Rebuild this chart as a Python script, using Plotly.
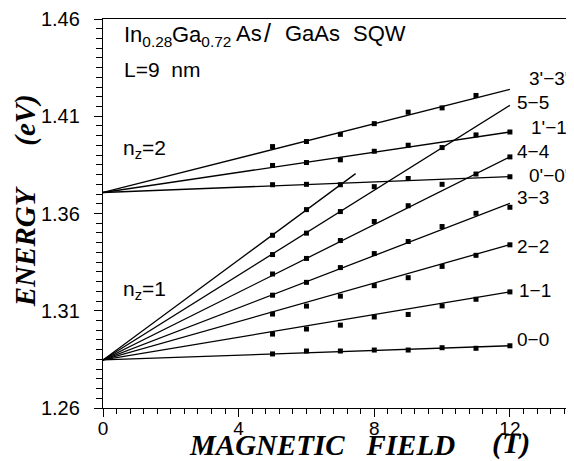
import plotly.graph_objects as go

# ---------------- data ----------------
# transition names (label text on the right)
names = ["0−0", "1−1", "2−2", "3−3", "4−4", "5−5", "6−6", "0'−0'", "1'−1'", "3'−3'"]

# fitted lines: start energy at B=0 and end point
line_start_energy = [1.2847, 1.2847, 1.2847, 1.2847, 1.2847, 1.2847, 1.2847, 1.3708, 1.3708, 1.3708]
line_end_field = [12, 12, 12, 12, 12, 12, 7.45, 12, 12, 12]
line_end_energy = [1.2920, 1.3197, 1.3440, 1.3652, 1.3891, 1.4156, 1.3805, 1.3790, 1.4019, 1.4238]

# measured points (field in T, energy in eV)
b_00 = [5, 6, 7, 8, 9, 10, 11, 12]
e_00 = [1.2878, 1.2893, 1.2893, 1.2898, 1.2898, 1.2910, 1.2907, 1.2920]
b_11 = [5, 6, 7, 8, 9, 10, 11, 12]
e_11 = [1.2980, 1.3006, 1.3026, 1.3068, 1.3081, 1.3125, 1.3159, 1.3197]
b_22 = [5, 6, 7, 8, 9, 10, 11, 12]
e_22 = [1.3083, 1.3124, 1.3175, 1.3229, 1.3270, 1.3328, 1.3385, 1.3439]
b_33 = [5, 6, 7, 8, 9, 10, 11, 12]
e_33 = [1.3180, 1.3246, 1.3322, 1.3394, 1.3456, 1.3533, 1.3601, 1.3632]
b_44 = [5, 6, 7, 8, 9, 11, 12]
e_44 = [1.3289, 1.3369, 1.3461, 1.3559, 1.3640, 1.3803, 1.3891]
b_55 = [5, 6, 7, 8, 10]
e_55 = [1.3389, 1.3499, 1.3610, 1.3738, 1.3939]
b_66 = [5, 6]
e_66 = [1.3488, 1.3620]
b_0p = [5, 6, 7, 9, 10, 12]
e_0p = [1.3748, 1.3750, 1.3748, 1.3780, 1.3750, 1.3789]
b_1p = [5, 6, 7, 8, 9, 11, 12]
e_1p = [1.3847, 1.3862, 1.3876, 1.3920, 1.3951, 1.4004, 1.4019]
b_3p = [5, 6, 7, 8, 9, 10, 11]
e_3p = [1.3944, 1.3970, 1.4007, 1.4062, 1.4121, 1.4143, 1.4207]

point_fields = [b_00, b_11, b_22, b_33, b_44, b_55, b_66, b_0p, b_1p, b_3p]
point_energies = [e_00, e_11, e_22, e_33, e_44, e_55, e_66, e_0p, e_1p, e_3p]

x_ticks = [0, 4, 8, 12]
y_ticks = [1.26, 1.31, 1.36, 1.41, 1.46]

# ---------------- figure ----------------
fig = go.Figure()
for i in range(len(names)):
    fig.add_trace(go.Scatter(
        x=[0, line_end_field[i]], y=[line_start_energy[i], line_end_energy[i]],
        mode="lines", line=dict(color="black", width=1.3), hoverinfo="skip"))
    fig.add_trace(go.Scatter(
        x=point_fields[i], y=point_energies[i], mode="markers",
        marker=dict(symbol="square", size=5, color="black"), name=names[i]))

sans = "Liberation Sans, Arial, sans-serif"
serif = "Liberation Serif, Times New Roman, serif"

# label positions (layout, not data)
label_pos = [(12.15, 1.2950), (12.20, 1.3202), (12.15, 1.3432), (12.15, 1.3683),
             (12.15, 1.3918), (12.15, 1.4169), None, (12.50, 1.3794),
             (12.55, 1.4041), (12.50, 1.4294)]
ann = []
for name, pos in zip(names, label_pos):
    if pos is None:
        continue
    ann.append(dict(x=pos[0], y=pos[1], xref="x", yref="y", text=name, showarrow=False,
                    xanchor="left", yanchor="middle", font=dict(family=sans, size=19, color="black")))

tfont = dict(family=sans, size=22, color="black")
ann += [
    dict(x=0.55, y=1.4515, xref="x", yref="y", showarrow=False, xanchor="left", yanchor="middle",
         text="In<sub>0.28</sub>", font=tfont),
    dict(x=1.99, y=1.4515, xref="x", yref="y", showarrow=False, xanchor="left", yanchor="middle",
         text="Ga<sub>0.72</sub>", font=tfont),
    dict(x=3.85, y=1.4526, xref="x", yref="y", showarrow=False, xanchor="left", yanchor="middle",
         text="As", font=tfont),
    dict(x=4.68, y=1.4526, xref="x", yref="y", showarrow=False, xanchor="left", yanchor="middle",
         text="/", font=dict(family=sans, size=25, color="black")),
    dict(x=5.30, y=1.4526, xref="x", yref="y", showarrow=False, xanchor="left", yanchor="middle",
         text="GaAs", font=tfont),
    dict(x=7.30, y=1.4526, xref="x", yref="y", showarrow=False, xanchor="left", yanchor="middle",
         text="SQW", font=tfont),
    dict(x=0.55, y=1.4342, xref="x", yref="y", showarrow=False, xanchor="left", yanchor="middle",
         text="L=9\u00a0\u00a0nm", font=dict(family=sans, size=21, color="black")),
    dict(x=0.53, y=1.3930, xref="x", yref="y", showarrow=False, xanchor="left", yanchor="middle",
         text="n<sub>z</sub>=2", font=dict(family=sans, size=21, color="black")),
    dict(x=0.53, y=1.3205, xref="x", yref="y", showarrow=False, xanchor="left", yanchor="middle",
         text="n<sub>z</sub>=1", font=dict(family=sans, size=21, color="black")),
    # axis titles
    dict(x=-0.165, y=0.414, xref="paper", yref="paper", showarrow=False, textangle=-90,
         xanchor="center", yanchor="middle", text="ENERGY",
         font=dict(family=serif, size=29, color="black", weight="bold", style="italic")),
    dict(x=-0.165, y=0.7417, xref="paper", yref="paper", showarrow=False, textangle=-90,
         xanchor="center", yanchor="middle", text="(eV)",
         font=dict(family=serif, size=29, color="black", weight="bold", style="italic")),
    dict(x=0.178, y=-0.096, xref="paper", yref="paper", showarrow=False,
         xanchor="left", yanchor="middle", text="MAGNETIC\u00a0\u00a0\u00a0FIELD",
         font=dict(family=serif, size=29, color="black", weight="bold", style="italic")),
    dict(x=0.822, y=-0.090, xref="paper", yref="paper", showarrow=False,
         xanchor="left", yanchor="middle", text="(T)",
         font=dict(family=serif, size=30, color="black", weight="bold", style="italic")),
]

fig.update_layout(
    width=566, height=453,
    margin=dict(l=95, r=0, t=9, b=53),
    paper_bgcolor="white", plot_bgcolor="white",
    showlegend=False,
    annotations=ann,
    xaxis=dict(range=[0, 13.89], tickmode="array", tickvals=x_ticks,
               ticktext=[str(v) for v in x_ticks],
               showline=True, linecolor="black", linewidth=1.3, mirror=True,
               ticks="outside", ticklen=8, tickwidth=1.2, tickcolor="black",
               showgrid=False, zeroline=False, ticklabelstandoff=-5,
               ticklabeloverflow="allow",
               minor=dict(dtick=0.4, tick0=0, ticks="outside", ticklen=5, tickwidth=1, tickcolor="black", showgrid=False),
               tickfont=dict(family=sans, size=19, color="black")),
    yaxis=dict(range=[1.26, 1.46], tickmode="array", tickvals=y_ticks,
               ticktext=["%.2f" % v for v in y_ticks],
               showline=True, linecolor="black", linewidth=1.3, mirror=False,
               ticks="outside", ticklen=8, tickwidth=1.2, tickcolor="black",
               showgrid=False, zeroline=False, ticklabelstandoff=10,
               ticklabeloverflow="allow",
               minor=dict(dtick=0.005, tick0=1.26, ticks="outside", ticklen=6, tickwidth=1, tickcolor="black", showgrid=False),
               tickfont=dict(family=sans, size=20, color="black")),
)

fig.write_html("out.html")
